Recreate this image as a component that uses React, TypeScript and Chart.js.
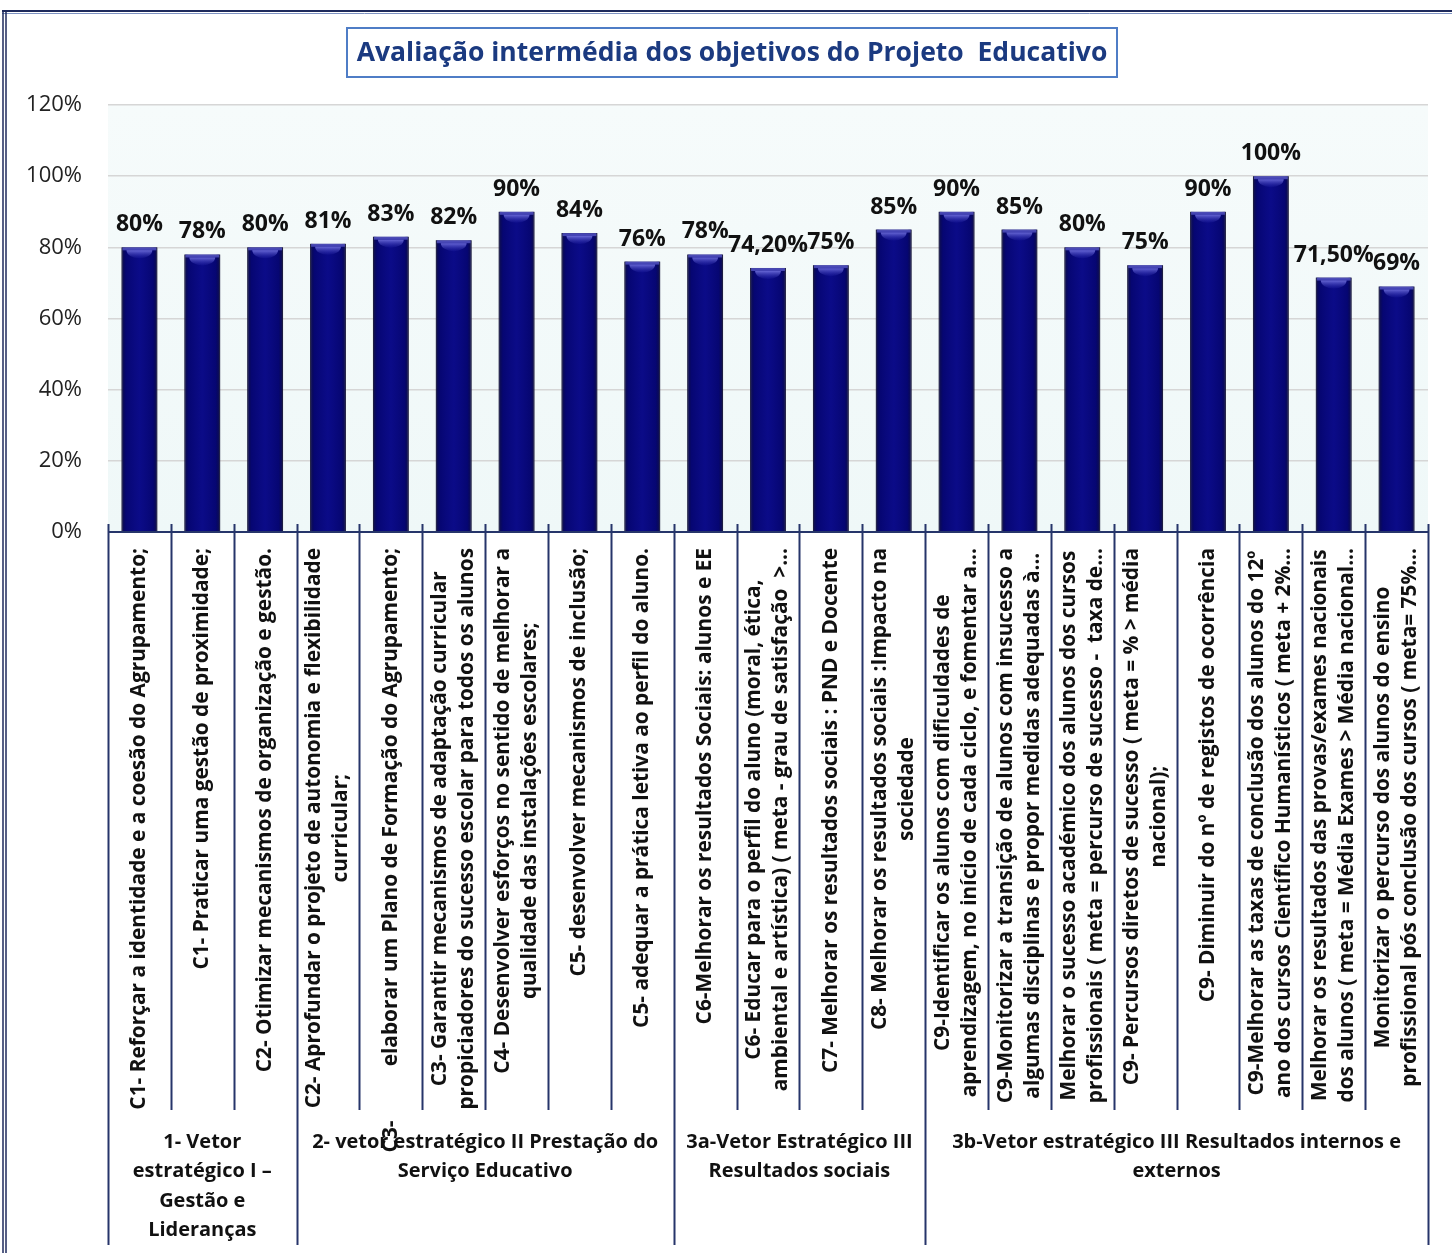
import React, { useEffect, useRef } from "react";
import { Chart, registerables } from "chart.js";

Chart.register(...registerables);

const TITLE = "Avaliação intermédia dos objetivos do Projeto  Educativo";

const categoryLines: string[][] = [
  ["C1- Reforçar a identidade e a coesão do Agrupamento;"],
  ["C1- Praticar uma gestão de proximidade;"],
  ["C2- Otimizar mecanismos de organização e gestão."],
  ["C2- Aprofundar o projeto de autonomia e flexibilidade", "curricular;"],
  ["C3-          elaborar um Plano de Formação do Agrupamento;"],
  ["C3- Garantir mecanismos de adaptação curricular", "propiciadores do sucesso escolar para todos os alunos"],
  ["C4- Desenvolver esforços no sentido de melhorar a", "qualidade das instalações escolares;"],
  ["C5- desenvolver mecanismos de inclusão;"],
  ["C5- adequar a prática letiva ao perfil do aluno."],
  ["C6-Melhorar os resultados Sociais: alunos e EE"],
  ["C6- Educar para o perfil do aluno (moral, ética,", "ambiental e artística) ( meta - grau de satisfação  >..."],
  ["C7- Melhorar os resultados sociais : PND e Docente"],
  ["C8- Melhorar os resultados sociais :Impacto na", "sociedade"],
  ["C9-Identificar os alunos com dificuldades de", "aprendizagem, no início de cada ciclo, e fomentar a..."],
  ["C9-Monitorizar a transição de alunos com insucesso a", "algumas disciplinas e propor medidas adequadas à..."],
  ["Melhorar o sucesso académico dos alunos dos cursos", "profissionais ( meta = percurso de sucesso -  taxa de..."],
  ["C9- Percursos diretos de sucesso ( meta = % > média", "nacional);"],
  ["C9- Diminuir do nº de registos de ocorrência"],
  ["C9-Melhorar as taxas de conclusão dos alunos do 12º", "ano dos cursos Científico Humanísticos ( meta + 2%..."],
  ["Melhorar os resultados das provas/exames nacionais", "dos alunos ( meta = Média Exames > Média nacional..."],
  ["Monitorizar o percurso dos alunos do ensino", "profissional pós conclusão dos cursos ( meta= 75%..."],
];

const values = [80, 78, 80, 81, 83, 82, 90, 84, 76, 78, 74.2, 75, 85, 90, 85, 80, 75, 90, 100, 71.5, 69];

const valueLabels = [
  "80%", "78%", "80%", "81%", "83%", "82%", "90%", "84%", "76%", "78%", "74,20%",
  "75%", "85%", "90%", "85%", "80%", "75%", "90%", "100%", "71,50%", "69%",
];

const groupLabels: string[][] = [
  ["1- Vetor", "estratégico I –", "Gestão e", "Lideranças"],
  ["2- vetor estratégico II Prestação do", "Serviço Educativo"],
  ["3a-Vetor Estratégico III", "Resultados sociais"],
  ["3b-Vetor estratégico III Resultados internos e", "externos"],
];
const groupSizes = [3, 6, 4, 8];

const Y_MAX = 120;
const Y_STEP = 20;

const FONT = "'Open Sans'";
const NAVY_LINE = "#26356a";

function fitSize(ctx: CanvasRenderingContext2D, text: string, target: number) {
  ctx.font = `bold 20px ${FONT}`;
  return (20 * target) / ctx.measureText(text).width;
}

const decorPlugin = {
  id: "decor",
  beforeDraw(chart: any) {
    const { ctx, chartArea: a } = chart;
    ctx.save();
    ctx.fillStyle = "#ffffff";
    ctx.fillRect(0, 0, chart.width, chart.height);
    const g = ctx.createLinearGradient(0, a.top, 0, a.bottom);
    g.addColorStop(0, "#f6fbfb");
    g.addColorStop(1, "#eff8f8");
    ctx.fillStyle = g;
    ctx.fillRect(a.left, a.top, a.right - a.left, a.bottom - a.top);
    ctx.restore();
  },
  afterDatasetsDraw(chart: any) {
    const { ctx } = chart;
    const meta = chart.getDatasetMeta(0);
    ctx.save();
    meta.data.forEach((bar: any, i: number) => {
      const { x, y, base, width } = bar.getProps(["x", "y", "base", "width"], true);
      const l = x - width / 2;
      const h = base - y;
      const g = ctx.createLinearGradient(l, 0, l + width, 0);
      g.addColorStop(0, "rgba(30,30,60,0.75)");
      g.addColorStop(0.12, "rgba(0,0,40,0.15)");
      g.addColorStop(0.5, "rgba(40,40,200,0.12)");
      g.addColorStop(0.88, "rgba(0,0,40,0.15)");
      g.addColorStop(1, "rgba(30,30,60,0.75)");
      ctx.fillStyle = g;
      ctx.fillRect(l, y, width, h);
      ctx.fillStyle = "rgba(80,80,190,0.85)";
      ctx.fillRect(l + 1, y, width - 2, 3);
      const cg = ctx.createLinearGradient(0, y + 2, 0, y + 11);
      cg.addColorStop(0, "rgba(130,130,235,0.9)");
      cg.addColorStop(1, "rgba(60,60,190,0.1)");
      ctx.fillStyle = cg;
      ctx.beginPath();
      ctx.ellipse(x, y + 3, width * 0.36, 8, 0, 0, Math.PI);
      ctx.closePath();
      ctx.fill();
      ctx.fillStyle = "#111111";
      ctx.font = `bold 23px ${FONT}`;
      ctx.textAlign = "center";
      ctx.textBaseline = "alphabetic";
      ctx.fillText(valueLabels[i], x, y - 16);
    });
    ctx.restore();
  },
  afterDraw(chart: any) {
    const { ctx, chartArea: a } = chart;
    const n = values.length;
    const catW = (a.right - a.left) / n;
    const catBottom = a.bottom + 578;
    const groupBottom = a.bottom + 713;
    ctx.save();

    const groupEdges = new Set<number>([0]);
    let acc = 0;
    groupSizes.forEach((s) => {
      acc += s;
      groupEdges.add(acc);
    });
    ctx.strokeStyle = NAVY_LINE;
    ctx.lineWidth = 2;
    for (let i = 0; i <= n; i++) {
      const x = Math.round(a.left + i * catW) + 0.5;
      ctx.beginPath();
      ctx.moveTo(x, a.bottom - 8);
      ctx.lineTo(x, groupEdges.has(i) ? groupBottom : catBottom);
      ctx.stroke();
    }
    ctx.beginPath();
    ctx.moveTo(a.left, a.bottom);
    ctx.lineTo(a.right + 1, a.bottom);
    ctx.stroke();

    // category labels (rotated)
    const catSize = fitSize(ctx, categoryLines[0][0], 562);
    ctx.fillStyle = "#111111";
    ctx.font = `bold ${catSize}px ${FONT}`;
    ctx.textAlign = "center";
    ctx.textBaseline = "middle";
    const lineH = 27;
    categoryLines.forEach((lines, i) => {
      const cx = a.left + (i + 0.5) * catW;
      const W = Math.max(...lines.map((t) => ctx.measureText(t).width));
      const top = a.bottom + 16;
      ctx.save();
      ctx.translate(cx, top + W / 2);
      ctx.rotate(-Math.PI / 2);
      lines.forEach((t, j) => {
        ctx.fillText(t, 0, (j - (lines.length - 1) / 2) * lineH);
      });
      ctx.restore();
    });

    // group labels
    const gSize = fitSize(ctx, groupLabels[3][0], 449);
    ctx.font = `bold ${gSize}px ${FONT}`;
    ctx.textAlign = "center";
    ctx.textBaseline = "middle";
    let start = 0;
    groupLabels.forEach((lines, gi) => {
      const end = start + groupSizes[gi];
      const cx = a.left + ((start + end) / 2) * catW;
      lines.forEach((t, j) => {
        ctx.fillText(t, cx, catBottom + 32 + j * 29.5);
      });
      start = end;
    });

    // title box
    const tSize = fitSize(ctx, TITLE, 751);
    ctx.font = `bold ${tSize}px ${FONT}`;
    const tcx = 732;
    ctx.fillStyle = "#ffffff";
    ctx.fillRect(347, 28, 770, 49);
    ctx.strokeStyle = "#4f7dc6";
    ctx.lineWidth = 2;
    ctx.strokeRect(347, 28, 770, 49);
    ctx.fillStyle = "#1b3a80";
    ctx.fillText(TITLE, tcx, 53);

    // outer frame
    ctx.strokeStyle = "#1e2a5c";
    ctx.lineWidth = 2;
    ctx.beginPath();
    ctx.moveTo(2, 11);
    ctx.lineTo(chart.width, 11);
    ctx.stroke();
    ctx.strokeStyle = "#7d92c2";
    ctx.lineWidth = 1;
    ctx.beginPath();
    ctx.moveTo(2, 13.5);
    ctx.lineTo(chart.width, 13.5);
    ctx.stroke();
    ctx.strokeStyle = "#1e2a5c";
    ctx.lineWidth = 1.5;
    [3, 6].forEach((x) => {
      ctx.beginPath();
      ctx.moveTo(x, 11);
      ctx.lineTo(x, chart.height);
      ctx.stroke();
    });
    ctx.restore();
  },
};

export default function App() {
  const ref = useRef<HTMLCanvasElement>(null);
  useEffect(() => {
    document.body.style.margin = "0";
    Chart.defaults.font.family = FONT;
    const chart = new Chart(ref.current as HTMLCanvasElement, {
      type: "bar",
      data: {
        labels: categoryLines.map((l) => l.join(" ")),
        datasets: [
          {
            data: values,
            backgroundColor: "#07077f",
            borderColor: "#1a1a48",
            borderWidth: 1,
            barPercentage: 0.57,
            categoryPercentage: 1,
          },
        ],
      },
      options: {
        responsive: false,
        animation: false,
        devicePixelRatio: 1,
        layout: { padding: { top: 105, right: 24, bottom: 721, left: 0 } },
        plugins: { legend: { display: false }, tooltip: { enabled: false }, title: { display: false } },
        scales: {
          x: { display: false },
          y: {
            min: 0,
            max: Y_MAX,
            ticks: {
              stepSize: Y_STEP,
              callback: (v: any) => v + "%",
              font: { family: FONT, size: 22 },
              color: "#222222",
              padding: 26,
            },
            grid: { color: "#d6d6d6", lineWidth: 1.5, drawTicks: false },
            border: { display: false },
            afterFit: (s: any) => {
              s.width = 108;
            },
          },
        },
      },
      plugins: [decorPlugin],
    });
    return () => chart.destroy();
  }, []);
  return (
    <div style={{ width: 1452, height: 1253, background: "#ffffff" }}>
      <canvas ref={ref} width={1452} height={1253} style={{ display: "block" }} />
    </div>
  );
}
